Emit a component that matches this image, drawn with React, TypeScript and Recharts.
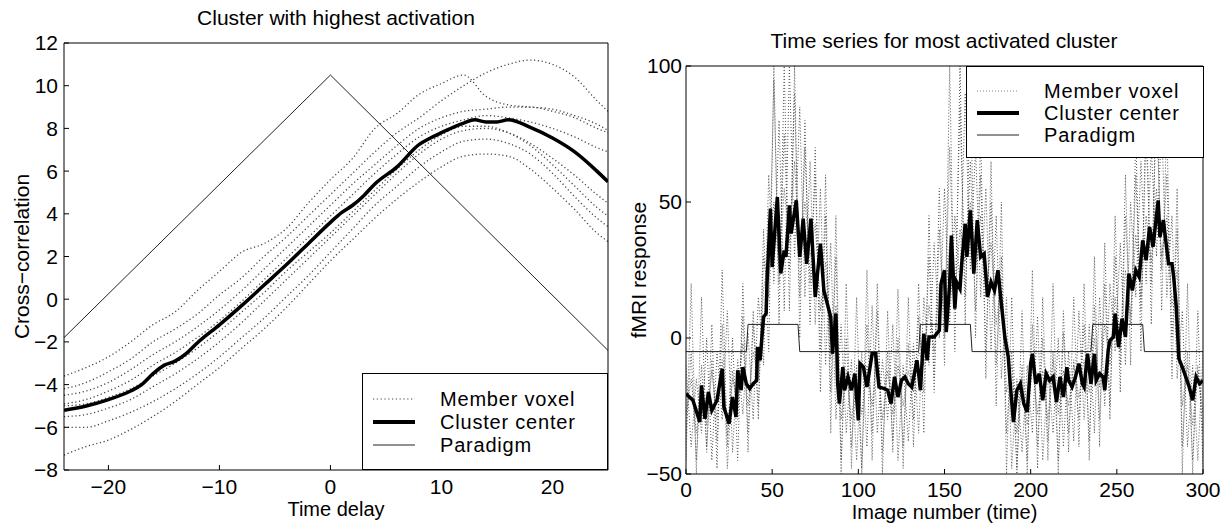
import React from 'react';
import { Legend, Line, LineChart, XAxis, YAxis } from 'recharts';

const FONT = '"Liberation Sans", Arial, Helvetica, sans-serif';

// ---- left panel: cross-correlation against time delay ----
const lagTicks = [-20, -10, 0, 10, 20];
const corrTicks = [-8, -6, -4, -2, 0, 2, 4, 6, 8, 10, 12];

const centerLag = [-24, -22, -20, -18, -17, -16, -15, -14, -13, -12, -10, -8, -6, -4, -2, 0, 1, 2, 3, 4, 6, 8, 9, 10, 12, 13, 14, 15, 16, 18, 20, 22, 24, 25];
const centerCorr = [-5.2, -5.0, -4.7, -4.3, -4.0, -3.5, -3.1, -2.9, -2.55, -2.05, -1.2, -0.3, 0.65, 1.6, 2.6, 3.6, 4.05, 4.4, 4.85, 5.4, 6.2, 7.25, 7.55, 7.8, 8.25, 8.4, 8.3, 8.3, 8.4, 8.05, 7.55, 6.9, 6.0, 5.5];

const memberLag = [-24, -22, -20, -18, -16, -14, -12, -10, -8, -6, -4, -2, 0, 2, 4, 6, 8, 10, 12, 14, 16, 18, 20, 22, 24, 25];
const member1 = [-3.6, -3.2, -2.7, -2.0, -1.2, -0.6, 0.4, 1.3, 2.2, 2.6, 3.3, 4.5, 5.6, 6.6, 8.0, 8.7, 9.6, 10.1, 10.5, 9.5, 9.1, 9.0, 8.9, 8.6, 8.2, 7.9];
const member2 = [-4.2, -3.9, -3.4, -2.8, -2.0, -1.4, -0.7, 0.2, 1.0, 2.0, 2.9, 3.9, 4.9, 5.9, 6.9, 7.8, 8.5, 9.3, 10.0, 10.6, 11.0, 11.2, 11.0, 10.4, 9.3, 8.8];
const member3 = [-4.5, -4.3, -3.9, -3.3, -2.6, -2.0, -1.3, -0.5, 0.4, 1.4, 2.4, 3.4, 4.4, 5.4, 6.3, 7.2, 8.0, 8.5, 8.8, 8.9, 9.0, 9.0, 8.8, 8.5, 8.0, 7.8];
const member4 = [-4.9, -4.7, -4.3, -3.8, -3.1, -2.5, -1.8, -1.0, -0.1, 0.9, 1.9, 2.9, 3.9, 4.9, 5.9, 6.8, 7.6, 8.1, 8.4, 8.6, 8.5, 8.3, 8.0, 7.6, 7.1, 6.9];
const member5 = [-5.5, -5.4, -5.1, -4.7, -4.1, -3.5, -2.8, -2.0, -1.1, -0.1, 0.9, 1.9, 2.9, 3.9, 4.9, 5.9, 6.8, 7.5, 7.9, 8.0, 7.8, 7.3, 6.6, 5.8, 4.9, 4.5];
const member6 = [-5.0, -4.9, -4.6, -4.2, -3.6, -3.0, -2.3, -1.5, -0.6, 0.3, 1.3, 2.2, 3.1, 4.1, 5.1, 6.1, 7.0, 7.7, 8.1, 8.1, 7.8, 7.2, 6.3, 5.3, 4.3, 3.9];
const member7 = [-6.0, -6.0, -5.7, -5.3, -4.8, -4.2, -3.5, -2.7, -1.8, -0.9, 0.1, 1.1, 2.2, 3.3, 4.4, 5.3, 6.2, 6.9, 7.4, 7.5, 7.3, 6.8, 5.9, 4.8, 3.8, 3.4];
const member8 = [-7.3, -6.9, -6.6, -6.1, -5.5, -4.8, -4.0, -3.2, -2.3, -1.4, -0.4, 0.7, 1.8, 2.8, 3.8, 4.7, 5.5, 6.2, 6.7, 6.8, 6.7, 6.1, 5.2, 4.2, 3.1, 2.7];
const lagMembers = [member1, member2, member3, member4, member5, member6, member7, member8];

const paradigmLag = [-24, 0, 25];
const paradigmCorr = [-1.8, 10.5, -2.4];

// ---- right panel: time series ----
const imageTicks = [0, 50, 100, 150, 200, 250, 300];
const responseTicks = [-50, 0, 50, 100];

const centerImage = [0, 4, 8, 9, 11, 13, 15, 18, 21, 22, 25, 27, 29, 30, 32, 33, 35, 37, 39, 41, 41.5, 43, 45, 46.5, 47, 49, 50, 53, 55, 57, 58, 60, 61, 64, 66, 68, 70, 72.5, 75, 78, 80, 82, 84, 85, 87, 88, 89, 91, 92, 94, 96, 98, 100, 101, 103, 105, 108, 110, 112, 115, 117, 119, 121, 123, 125, 127, 129, 131, 134, 135, 136, 138, 140, 141, 144, 147, 148, 150, 151, 153, 154, 156, 157, 159, 160, 162, 163, 165, 167, 169, 171, 173, 175, 177, 179, 181, 183, 185, 187, 188, 190, 192, 194, 196, 198, 200, 201, 203, 205, 207, 209, 211, 213, 215, 217, 219, 221, 222, 224, 226, 228, 230, 231, 233, 235, 237, 238, 240, 242, 243, 245, 246, 248, 249, 251, 253, 255, 257, 259, 261, 263, 265, 267, 269, 271, 274, 275, 277, 280, 282, 283, 284.5, 286, 288, 290, 292, 294, 296, 298, 300];
const centerResponse = [-20.5, -22.9, -30.9, -17.4, -29.7, -19.8, -26.6, -22.9, -11.3, -25.4, -31.5, -21.7, -29, -11.9, -19.2, -10.7, -16.8, -18.6, -16.8, -15.6, -3.3, -8.2, 7.7, 9, 20, 47.6, 26.1, 51.8, 23.7, 32.2, 29.8, 48.8, 38.4, 50.6, 29.8, 43.9, 27.3, 43.9, 15.1, 34.7, 17.5, 12.6, 7.7, -5.8, 9, -16.8, -24.1, -10.7, -19.2, -14.3, -19.2, -13.1, -30.3, -9.4, -10.7, -18, -5.8, -5.8, -18, -18.6, -19.2, -24.1, -14.3, -21.7, -15.6, -14.3, -16.8, -18, -8.2, -13.1, -19.2, 1.6, -8.2, 0.4, 0.4, 2.8, 20, 24.9, 2.2, 20, 37.7, 10.8, 20.6, 18.1, 27.3, 42, 29.8, 46.9, 23.7, 43.3, 29.8, 31, 15.1, 20.6, 17.5, 24.9, 12.6, 0.4, -7, -15.6, -30.9, -19.2, -16.8, -24.1, -27.2, -9.4, -5.8, -16.8, -13.1, -22.9, -13.1, -15.6, -14.3, -23.5, -14.3, -21.7, -10.7, -15.6, -18, -14.3, -9.4, -16.8, -18, -5.8, -16.8, -5.8, -15.6, -13.1, -14.3, -19.2, -4.5, -0.9, 0.4, 9, -3.3, 7.1, 0.4, 23.7, 17.5, 24.9, 22.4, 35.9, 28.6, 40.8, 33.5, 50.6, 37.1, 43.3, 27.3, 27.3, 22.4, 11.4, -7.6, -10.7, -14.3, -18, -22.9, -14.3, -16.8, -15.6];

const voxelImage = Array.from({ length: 101 }, (_, i) => i * 3);
const voxel1 = [-35, -5, -45, -10, -40, -8, -38, 5, -48, -12, -30, 8, -35, 5, -25, 30, 15, 95, 20, 75, 25, 90, 15, 70, 20, 60, -5, 45, -20, 30, -45, 0, -40, -10, -48, 5, -35, 10, -42, -5, -38, 0, -40, -2, -30, 8, -20, 30, -15, 40, 0, 70, 10, 85, 15, 65, 10, 60, -5, 50, -10, 30, -35, -5, -48, -10, -45, 5, -40, 0, -38, -5, -45, 2, -35, -8, -30, 5, -38, 12, -30, 20, -25, 30, -10, 45, 5, 60, 10, 75, 20, 85, 25, 60, 0, 40, -40, -5, -45, -10, -35];
const voxel2 = [-10, -40, -15, -35, 0, -45, -5, -30, 10, -42, -8, -28, 2, -30, 15, -10, 60, 20, 80, 10, 100, 30, 85, 15, 65, 5, 55, -10, 35, -30, 5, -35, -8, -45, -5, -40, 12, -35, -8, -30, 5, -45, -10, -38, -2, -35, 15, -10, 35, 0, 55, 5, 45, 20, 90, 25, 70, 15, 55, -5, 45, -15, 15, -48, -15, -42, -10, -35, 8, -45, -12, -35, 0, -40, -5, -38, 10, -30, 5, -35, 15, -25, 20, -5, 35, -10, 50, 15, 65, 20, 70, 30, 80, 15, 45, -15, 10, -40, -10, -45, -5];
const voxel3 = [-28, -15, -35, -18, -32, -12, -30, -8, -36, -15, -22, -2, -25, -5, -15, 18, 30, 50, 25, 55, 35, 65, 28, 50, 30, 42, 10, 28, -8, 12, -30, -12, -30, -15, -28, -10, -25, -5, -30, -12, -28, -10, -25, -12, -20, -5, -10, 12, -5, 20, 10, 35, 15, 40, 28, 50, 25, 45, 15, 35, 5, 22, -20, -10, -35, -15, -32, -10, -28, -12, -30, -8, -28, -12, -25, -10, -22, -8, -20, 0, -18, 5, -10, 15, -5, 25, 8, 38, 15, 45, 28, 55, 30, 45, 12, 25, -25, -10, -32, -12, -28];
const voxel4 = [-45, 20, -50, 15, -42, 5, -48, 25, -40, 0, -45, 20, -42, 10, -30, 40, -5, 100, 5, 100, 10, 100, 0, 80, 5, 70, -20, 60, -35, 45, -50, 20, -48, 15, -50, 25, -45, 20, -50, 10, -42, 18, -48, 15, -40, 20, -35, 45, -20, 55, -10, 100, -5, 100, 5, 95, 0, 75, -15, 65, -25, 50, -50, 15, -50, 10, -50, 25, -48, 15, -45, 20, -50, 10, -42, 15, -40, 20, -45, 30, -40, 35, -30, 45, -20, 60, -10, 75, -5, 90, 5, 100, 10, 80, -15, 55, -50, 20, -50, 10, -48];
const imageMembers = [voxel1, voxel2, voxel3, voxel4];

const paradigmImage = [0, 35, 36, 65, 66, 135, 136, 165, 166, 235, 236, 265, 266, 300];
const paradigmResponse = [-5, -5, 5, 5, -5, -5, 5, 5, -5, -5, 5, 5, -5, -5];

const pairs = (xs: number[], ys: number[]) => xs.map((x, i) => ({ x, y: ys[i] }));
const minus = (v: number) => String(v).replace('-', '\u2212');

const tickStyle = { fontSize: 21, fill: '#000', fontFamily: FONT };
const labelStyle = { fontSize: 21, fill: '#000', fontFamily: FONT };
const xLabelStyle = { fontSize: 20, fill: '#000', fontFamily: FONT };

interface LegendBoxProps {
    width: number;
    height: number;
    rowTop: number;
    rowGap: number;
    voxelStroke: string;
    voxelDash: string;
}

const LegendBox: React.FC<LegendBoxProps> = ({ width, height, rowTop, rowGap, voxelStroke, voxelDash }) => {
    const rows = [
        { name: 'Member voxel', stroke: voxelStroke, w: 1.2, dash: voxelDash },
        { name: 'Cluster center', stroke: '#000', w: 4, dash: undefined },
        { name: 'Paradigm', stroke: '#222', w: 1, dash: undefined },
    ];
    return (
        <div
            style={{
                position: 'relative',
                width,
                height,
                boxSizing: 'border-box',
                border: '1px solid #000',
                background: '#fff',
                fontFamily: FONT,
                fontSize: 20,
                letterSpacing: 0.8,
                color: '#000',
            }}
        >
            {rows.map((r, i) => (
                <div key={r.name} style={{ position: 'absolute', left: 0, top: rowTop + i * rowGap - 12, height: 24, width: '100%' }}>
                    <svg width={60} height={24} style={{ position: 'absolute', left: 0, top: 0 }}>
                        <line x1={10} y1={12} x2={52} y2={12} stroke={r.stroke} strokeWidth={r.w} strokeDasharray={r.dash} />
                    </svg>
                    <span style={{ position: 'absolute', left: 77, top: 0, lineHeight: '24px', whiteSpace: 'nowrap' }}>{r.name}</span>
                </div>
            ))}
        </div>
    );
};

const CorrelationPanel: React.FC = () => (
    <LineChart width={620} height={524} margin={{ top: 43, right: 12, bottom: 24, left: 14 }}>
        <text x={336} y={25} textAnchor="middle" fontSize={21} fontFamily={FONT} fill="#000">
            Cluster with highest activation
        </text>
        <XAxis
            type="number"
            dataKey="x"
            domain={[-24, 25]}
            ticks={lagTicks}
            interval={0}
            allowDataOverflow
            height={30}
            tickSize={-5}
            tickMargin={14}
            tick={tickStyle}
            tickFormatter={minus}
            axisLine={{ stroke: '#000' }}
            tickLine={{ stroke: '#000' }}
            label={{ value: 'Time delay', position: 'insideBottom', offset: -16, ...xLabelStyle }}
        />
        <XAxis xAxisId="top" orientation="top" mirror type="number" domain={[-24, 25]} ticks={lagTicks} interval={0} tick={false} tickSize={5} axisLine={{ stroke: '#000' }} tickLine={{ stroke: '#000' }} />
        <YAxis
            type="number"
            domain={[-8, 12]}
            ticks={corrTicks}
            interval={0}
            allowDataOverflow
            width={50}
            tickSize={-5}
            tickMargin={11}
            tick={tickStyle}
            tickFormatter={minus}
            axisLine={{ stroke: '#000' }}
            tickLine={{ stroke: '#000' }}
            label={{ value: 'Cross\u2212correlation', angle: -90, position: 'insideLeft', offset: 8, ...labelStyle, style: { textAnchor: 'middle' } }}
        />
        <YAxis yAxisId="right" orientation="right" mirror type="number" domain={[-8, 12]} ticks={corrTicks} interval={0} tick={false} tickSize={5} width={10} axisLine={{ stroke: '#000' }} tickLine={{ stroke: '#000' }} />
        {lagMembers.map((m, i) => (
            <Line
                key={`lag-member-${i}`}
                data={pairs(memberLag, m)}
                dataKey="y"
                type="monotone"
                stroke="#444"
                strokeWidth={1.3}
                strokeDasharray="1.2 2.6"
                dot={false}
                activeDot={false}
                isAnimationActive={false}
            />
        ))}
        <Line data={pairs(paradigmLag, paradigmCorr)} dataKey="y" type="linear" stroke="#222" strokeWidth={1} dot={false} activeDot={false} isAnimationActive={false} />
        <Line data={pairs(centerLag, centerCorr)} dataKey="y" type="monotone" stroke="#000" strokeWidth={3.5} dot={false} activeDot={false} isAnimationActive={false} />
        <Legend
            layout="vertical"
            align="center"
            verticalAlign="middle"
            wrapperStyle={{ left: 362, top: 373, width: 246, height: 97 }}
            content={() => <LegendBox width={246} height={97} rowTop={25} rowGap={23} voxelStroke="#444" voxelDash="1.2 2.6" />}
        />
    </LineChart>
);

const TimeSeriesPanel: React.FC = () => (
    <LineChart width={605} height={524} margin={{ top: 66, right: 22, bottom: 20, left: 16 }}>
        <text x={324} y={48} textAnchor="middle" fontSize={21} fontFamily={FONT} fill="#000">
            Time series for most activated cluster
        </text>
        <XAxis
            type="number"
            dataKey="x"
            domain={[0, 300]}
            ticks={imageTicks}
            interval={0}
            allowDataOverflow
            height={30}
            tickSize={-5}
            tickMargin={13}
            tick={tickStyle}
            axisLine={{ stroke: '#000' }}
            tickLine={{ stroke: '#000' }}
            label={{ value: 'Image number (time)', position: 'insideBottom', offset: -15, ...xLabelStyle }}
        />
        <XAxis xAxisId="top" orientation="top" mirror type="number" domain={[0, 300]} ticks={imageTicks} interval={0} tick={false} tickSize={5} axisLine={{ stroke: '#000' }} tickLine={{ stroke: '#000' }} />
        <YAxis
            type="number"
            domain={[-50, 100]}
            ticks={responseTicks}
            interval={0}
            allowDataOverflow
            width={50}
            tickSize={-5}
            tickMargin={9}
            tick={tickStyle}
            tickFormatter={minus}
            axisLine={{ stroke: '#000' }}
            tickLine={{ stroke: '#000' }}
            label={{ value: 'fMRI response', angle: -90, position: 'insideLeft', offset: 3, ...labelStyle, style: { textAnchor: 'middle' } }}
        />
        <YAxis yAxisId="right" orientation="right" mirror type="number" domain={[-50, 100]} ticks={responseTicks} interval={0} tick={false} tickSize={5} width={10} axisLine={{ stroke: '#000' }} tickLine={{ stroke: '#000' }} />
        {imageMembers.map((m, i) => (
            <Line
                key={`image-member-${i}`}
                data={pairs(voxelImage, m)}
                dataKey="y"
                type="linear"
                stroke="#555"
                strokeWidth={1}
                strokeDasharray="1 2"
                dot={false}
                activeDot={false}
                isAnimationActive={false}
            />
        ))}
        <Line data={pairs(paradigmImage, paradigmResponse)} dataKey="y" type="linear" stroke="#222" strokeWidth={1} dot={false} activeDot={false} isAnimationActive={false} />
        <Line data={pairs(centerImage, centerResponse)} dataKey="y" type="linear" stroke="#000" strokeWidth={3.5} dot={false} activeDot={false} isAnimationActive={false} />
        <Legend
            layout="vertical"
            align="center"
            verticalAlign="middle"
            wrapperStyle={{ left: 346, top: 66, width: 238, height: 92 }}
            content={() => <LegendBox width={238} height={92} rowTop={24} rowGap={22} voxelStroke="#888" voxelDash="1 2" />}
        />
    </LineChart>
);

export default function App() {
    return (
        <div style={{ position: 'absolute', left: 0, top: 0, width: 1225, height: 524, background: '#fff', fontFamily: FONT }}>
            <div style={{ position: 'absolute', left: 0, top: 0 }}>
                <CorrelationPanel />
            </div>
            <div style={{ position: 'absolute', left: 620, top: 0 }}>
                <TimeSeriesPanel />
            </div>
        </div>
    );
}
